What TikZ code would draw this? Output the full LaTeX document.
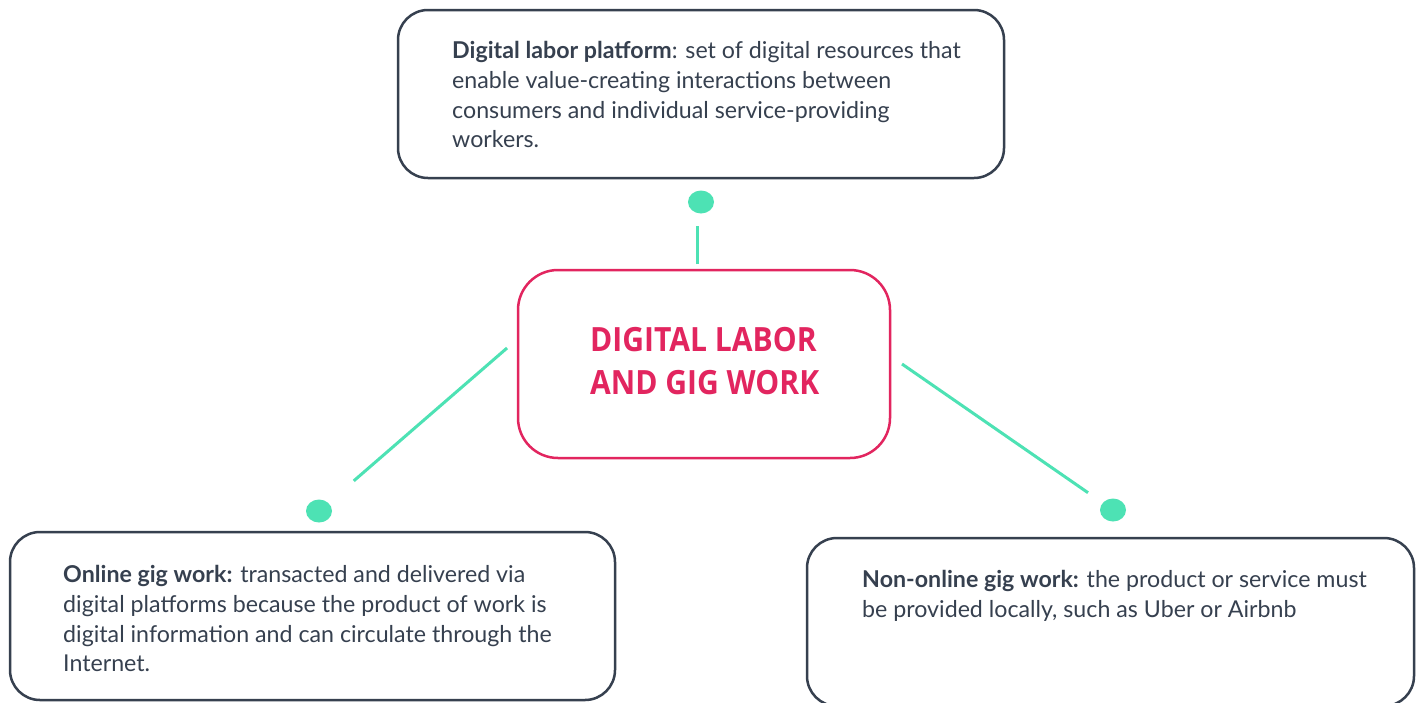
\documentclass[tikz,border=0pt]{standalone}
\usepackage{fontspec}
\setmainfont{Lato}
\newfontfamily\titlefont{Open Sans}
\usetikzlibrary{shapes.geometric}
\definecolor{ink}{HTML}{36404F}
\definecolor{rose}{HTML}{E2255F}
\definecolor{mint}{HTML}{4DE2B4}
\begin{document}
\begin{tikzpicture}[x=1pt,y=-1pt,
  box/.style={draw=ink, line width=2.5pt, rounded corners=30pt, inner sep=0, rectangle},
  hub/.style={draw=rose, line width=2.5pt, rounded corners=40pt, inner sep=0, rectangle},
  dot/.style={fill=mint, ellipse, minimum width=26pt, minimum height=23pt, inner sep=0},
  conn/.style={draw=mint, line width=3pt},
  txt/.style={anchor=north west, inner sep=0, align=left, text=ink, font=\fontsize{23.2}{29.8}\selectfont},
  ttl/.style={anchor=north west, inner sep=0, align=left, text=rose, xscale=0.9, transform shape, font=\titlefont\bfseries\fontsize{33.4}{43}\selectfont},
]
\fill[white] (0,0) rectangle (1418,702);
\useasboundingbox (0,0) rectangle (1418,702);
% boxes
\node[box, minimum width=606pt, minimum height=168pt] (top) at (701,94) {};
\node[hub, minimum width=372pt, minimum height=188pt] (hub) at (704,364) {};
\node[box, minimum width=605pt, minimum height=168pt] (left) at (312.5,616) {};
\node[box, minimum width=607pt, minimum height=168pt] (right) at (1110.5,622) {};
% dots
\node[dot] (tdot) at (701,202) {};
\node[dot] (ldot) at (319,511) {};
\node[dot] (rdot) at (1113,510) {};
% connectors
\coordinate (ta) at (697,270);
\coordinate (tb) at (697,202);
\draw[conn, shorten <=6pt, shorten >=24pt] (ta) -- (tb);
\coordinate (la) at (518,338.5);
\draw[conn, shorten <=14.5pt, shorten >=46pt] (la) -- (ldot.center);
\coordinate (ra) at (890,355.7);
\draw[conn, shorten <=14.6pt, shorten >=30.4pt] (ra) -- (rdot.center);
% texts
\node[txt] (ttop) at (452,41) {\textbf{Digital labor platform}: set of digital resources that\\enable value-creating interactions between\\consumers and individual service-providing\\workers.};
\node[ttl] (thub) at (590,327) {DIGITAL LABOR\\AND GIG WORK};
\node[txt] (tleft) at (63,565) {\textbf{Online gig work:} transacted and delivered via\\digital platforms because the product of work is\\digital information and can circulate through the\\Internet.};
\node[txt] (tright) at (862,570) {\textbf{Non-online gig work:} the product or service must\\be provided locally, such as Uber or Airbnb};
\end{tikzpicture}
\end{document}
